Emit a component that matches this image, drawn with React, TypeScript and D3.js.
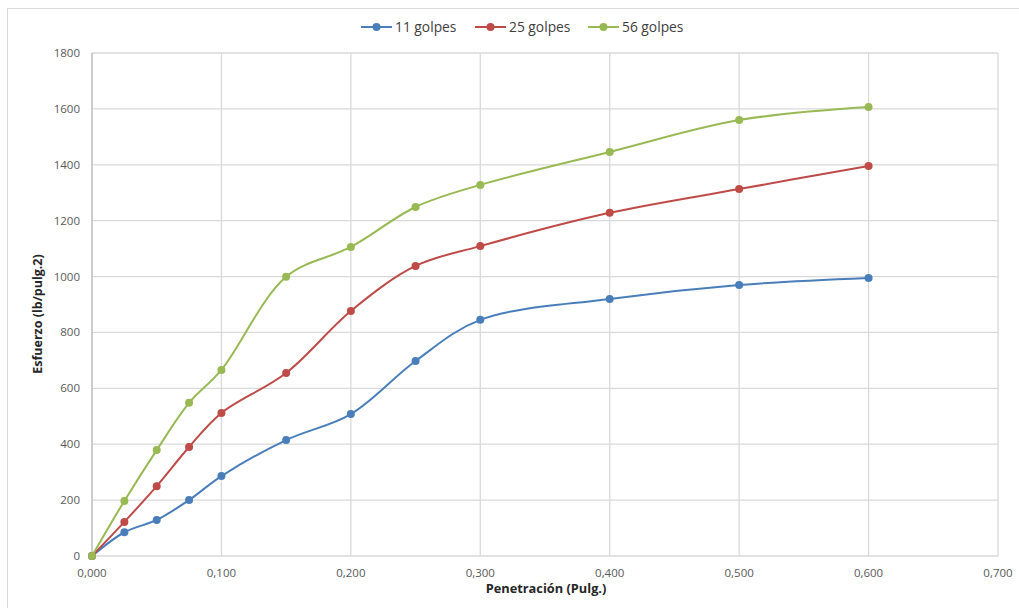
import React from "react";
import * as d3 from "d3";

const penetration = [0, 0.025, 0.05, 0.075, 0.1, 0.15, 0.2, 0.25, 0.3, 0.4, 0.5, 0.6];
const golpes11 = [0, 85, 129, 200, 286, 415, 508, 698, 845, 920, 970, 995];
const golpes25 = [0, 122, 250, 390, 512, 655, 877, 1038, 1109, 1228, 1313, 1396];
const golpes56 = [0, 197, 379, 548, 666, 999, 1106, 1249, 1328, 1446, 1560, 1607];
const seriesNames = ["11 golpes", "25 golpes", "56 golpes"];
const seriesColors = ["#4A7EBB", "#BE4B48", "#98B954"];
const xTicks = [0, 0.1, 0.2, 0.3, 0.4, 0.5, 0.6, 0.7];
const yTicks = [0, 200, 400, 600, 800, 1000, 1200, 1400, 1600, 1800];

const W = 1019;
const H = 608;
const left = 92, right = 998, top = 53, bottom = 556;
const font = "'Open Sans', sans-serif";

export default function App() {
  const x = d3.scaleLinear().domain([0, 0.7]).range([left, right]);
  const y = d3.scaleLinear().domain([0, 1800]).range([bottom, top]);
  const fmt = (v: number) => v.toFixed(3).replace(".", ",");
  const all = [golpes11, golpes25, golpes56];
  const line = d3
    .line<number>()
    .x((_, i) => x(penetration[i]))
    .y((d) => y(d))
    .curve(d3.curveCatmullRom.alpha(0.5));

  const legendX = [361, 475, 588];
  return (
    <svg
      width={W}
      height={H}
      style={{ position: "absolute", left: 0, top: 0, background: "#fff" }}
      fontFamily={font}
    >
      <rect x={7.5} y={8.5} width={W + 10} height={H + 10} fill="#fff" stroke="#D9D9D9" strokeWidth={1} />
      {yTicks.map((t) => (
        <line key={"gy" + t} x1={left} x2={right} y1={y(t)} y2={y(t)} stroke="#D9D9D9" strokeWidth={1.3} />
      ))}
      {xTicks.map((t) => (
        <line key={"gx" + t} x1={x(t)} x2={x(t)} y1={top} y2={bottom} stroke="#D9D9D9" strokeWidth={1.3} />
      ))}
      <line x1={left} x2={left} y1={top} y2={bottom} stroke="#BFBFBF" strokeWidth={1.3} />
      {yTicks.map((t) => (
        <text key={"ty" + t} x={left - 12} y={y(t)} dy="0.35em" textAnchor="end" fontSize={11.5} fill="#595959">
          {t}
        </text>
      ))}
      {xTicks.map((t) => (
        <text key={"tx" + t} x={x(t)} y={bottom + 21} textAnchor="middle" fontSize={11.5} fill="#595959">
          {fmt(t)}
        </text>
      ))}
      <text x={546} y={593} textAnchor="middle" fontSize={12.8} fontWeight="bold" fill="#262626">
        Penetración (Pulg.)
      </text>
      <text
        transform={`translate(42,314) rotate(-90)`}
        textAnchor="middle"
        fontSize={12.5}
        fontWeight="bold"
        fill="#262626"
      >
        Esfuerzo (lb/pulg.2)
      </text>
      {all.map((s, k) => (
        <g key={"s" + k}>
          <path d={line(s) || ""} fill="none" stroke={seriesColors[k]} strokeWidth={2} />
          {s.map((v, i) => (
            <circle key={i} cx={x(penetration[i])} cy={y(v)} r={4} fill={seriesColors[k]} />
          ))}
        </g>
      ))}
      {seriesNames.map((n, k) => (
        <g key={"l" + k} transform={`translate(${legendX[k]},27)`}>
          <line x1={0} x2={31} y1={0} y2={0} stroke={seriesColors[k]} strokeWidth={2} />
          <circle cx={15.5} cy={0} r={4} fill={seriesColors[k]} />
          <text x={34} y={0} dy="0.35em" fontSize={13.8} fill="#404040">
            {n}
          </text>
        </g>
      ))}
    </svg>
  );
}
